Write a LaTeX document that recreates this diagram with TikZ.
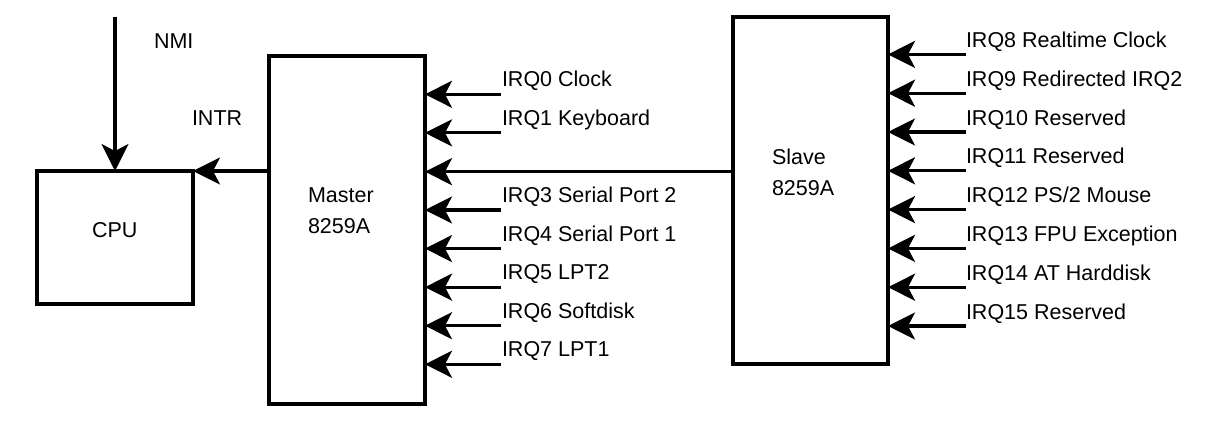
\documentclass[tikz,border=0pt]{standalone}
\usepackage{fontspec}
\setmainfont{Liberation Sans}
\usetikzlibrary{arrows.meta}
\begin{document}
\begin{tikzpicture}[x=1pt,y=-1pt,
  box/.style={draw, line width=3.2pt, inner sep=0pt, outer sep=0pt},
  lbl/.style={anchor=base west, inner sep=0pt, outer sep=0pt, font=\fontsize{21.5}{26}\selectfont},
  arr/.style={line width=3.2pt, -{Stealth[length=27pt,width=27pt,inset=7pt]}}]
\useasboundingbox (0,0) rectangle (1216,422);
% boxes
\node[box, minimum width=156pt, minimum height=133pt] (cpu) at (115,237.5) {};
\node[box, minimum width=156pt, minimum height=348pt] (master) at (347,230) {};
\node[box, minimum width=155pt, minimum height=347pt] (slave) at (810.5,190.5) {};
% box texts
\node[lbl] (cputxt) at (92,238) {CPU};
\node[lbl] (mtxta) at (308,203) {Master};
\node[lbl] (mtxtb) at (308,234) {8259A};
\node[lbl] (stxta) at (772,164.3) {Slave};
\node[lbl] (stxtb) at (772,196) {8259A};
% CPU inputs
\node[lbl] (nmi) at (154,48.3) {NMI};
\node[lbl] (intr) at (192,125.3) {INTR};
\coordinate (nmistart) at (115,17);
\draw[arr] (nmistart) -- (cpu.north);
\draw[arr] (master.west |- cpu.north east) -- (cpu.north east);
% slave to master
\coordinate (sm) at (600,171.7);
\draw[arr] (slave.west |- sm) -- (master.east |- sm);
% master inputs
\foreach \k/\t in {0/{IRQ0 Clock}, 1/{IRQ1 Keyboard}, 3/{IRQ3 Serial Port 2}, 4/{IRQ4 Serial Port 1}, 5/{IRQ5 LPT2}, 6/{IRQ6 Softdisk}, 7/{IRQ7 LPT1}} {
  \pgfmathsetmacro{\yy}{94.3+38.57*\k}
  \coordinate (mi\k) at (501,\yy);
  \node[lbl] (ml\k) at (502,\yy-7.3) {\t};
  \draw[arr] (mi\k) -- (master.east |- mi\k);
}
% slave inputs
\foreach \k/\t in {0/{IRQ8 Realtime Clock}, 1/{IRQ9 Redirected IRQ2}, 2/{IRQ10 Reserved}, 3/{IRQ11 Reserved}, 4/{IRQ12 PS/2 Mouse}, 5/{IRQ13 FPU Exception}, 6/{IRQ14 AT Harddisk}, 7/{IRQ15 Reserved}} {
  \pgfmathsetmacro{\yy}{54.4+38.8*\k}
  \coordinate (si\k) at (965.5,\yy);
  \node[lbl] (sl\k) at (966,\yy-6.8) {\t};
  \draw[arr] (si\k) -- (slave.east |- si\k);
}
\end{tikzpicture}
\end{document}
